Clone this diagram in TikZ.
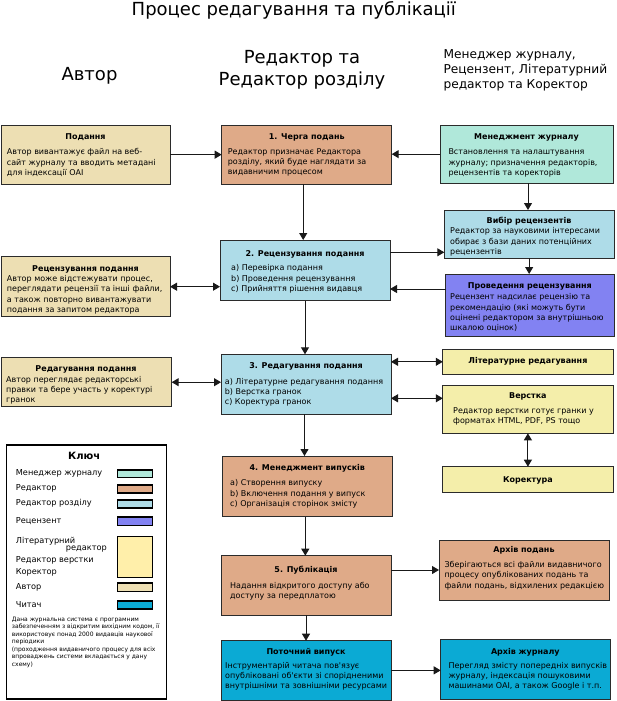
\documentclass[tikz,border=0pt]{standalone}
\usepackage{fontspec}
\setmainfont{DejaVu Sans}
\usetikzlibrary{arrows.meta,calc}
\definecolor{cauthor}{HTML}{EDDFB3}
\definecolor{ceditor}{HTML}{DFAA88}
\definecolor{csection}{HTML}{AEDCE8}
\definecolor{cmanager}{HTML}{B0E8DA}
\definecolor{creviewer}{HTML}{8282F2}
\definecolor{ccopy}{HTML}{F4EEAA}
\definecolor{ckeycopy}{HTML}{FFEFAA}
\definecolor{creader}{HTML}{0BAAD4}
\definecolor{cborder}{HTML}{2B2B2B}
\newcommand\fl{\rule{0pt}{7.6pt}}
\newcommand\fls{\rule{0pt}{5.7pt}}
\newcommand\mkbox[6]{\node[box, fill=#2, minimum width={#5-#3}, minimum height={#6-#4}] (#1) at (#3,#4) {};}
\newcommand\mksw[5]{\node[swatch, fill=#2, minimum height={#4-#3}] (#1) at (116.7,#3) {};}
\begin{document}
\begin{tikzpicture}[x=1pt,y=-1pt,
  box/.style={draw=cborder, line width=1pt, inner sep=0pt, outer sep=0pt, anchor=north west},
  swatch/.style={draw=black, line width=1.5pt, inner sep=0pt, anchor=north west, minimum width=35},
  ttl/.style={anchor=base, inner sep=0pt, font=\bfseries\fontsize{8}{10}\selectfont},
  bodyt/.style={anchor=north west, inner sep=0pt, align=left, font=\fontsize{8}{10.3}\selectfont},
  head/.style={inner sep=0pt, font=\fontsize{18}{22}\selectfont},
  keyl/.style={anchor=base west, inner sep=0pt, font=\fontsize{8.2}{10}\selectfont},
  arr/.style={-{Triangle[length=7pt,width=8pt]}, line width=1pt, draw=black!90},
  darr/.style={{Triangle[length=7pt,width=8pt]}-{Triangle[length=7pt,width=8pt]}, line width=1pt, draw=black!90}]
\useasboundingbox (0,0) rectangle (616,701);
% headings (base of a multi-line node = baseline of its last line)
\node[head, anchor=base] (title) at (293.8,15.5) {Процес редагування та публікації};
\node[head, anchor=base] (hauthor) at (89.5,81) {Автор};
\node[head, anchor=base, align=center] (hed) at (302,85.5) {Редактор та\\Редактор розділу};
\node[anchor=base west, inner sep=0pt, align=left, font=\fontsize{12.2}{15}\selectfont] (hright) at (443.3,88.5) {Менеджер журналу,\\Рецензент, Літературний\\редактор та Коректор};
% boxes
\mkbox{pod}{cauthor}{1}{125}{170}{184.3}
\mkbox{rec}{cauthor}{1}{256.7}{170}{316.7}
\mkbox{red}{cauthor}{1}{357.7}{171.7}{406.7}
\mkbox{b1}{ceditor}{221.7}{125}{391.7}{184.3}
\mkbox{b2}{csection}{220}{240}{390}{300.7}
\mkbox{b3}{csection}{221}{354.3}{391}{414.3}
\mkbox{b4}{ceditor}{222.3}{456}{392.3}{516.7}
\mkbox{b5}{ceditor}{221}{555.7}{391}{615}
\mkbox{pot}{creader}{221}{640.7}{391}{700}
\mkbox{mj}{cmanager}{440}{125}{613}{183.3}
\mkbox{vib}{csection}{444.3}{210}{614}{258.3}
\mkbox{prov}{creviewer}{445.7}{274}{614}{336}
\mkbox{lit}{ccopy}{442.8}{349.3}{613}{374.3}
\mkbox{ver}{ccopy}{442.8}{385.3}{613}{433.3}
\mkbox{kor}{ccopy}{442.8}{466.7}{613}{492.3}
\mkbox{arp}{ceditor}{439}{540}{609}{600}
\mkbox{arj}{creader}{440.7}{639.3}{610}{699.3}
% box texts
\node[ttl] (podt) at (85.5,139) {Подання};
\node[bodyt] (podb) at (6.7,147.1) {\fl Автор вивантажує файл на веб-\\сайт журналу та вводить метадані\\для індексації OAI};
\node[ttl] (rect) at (85.5,271.3) {Рецензування подання};
\node[bodyt] (recb) at (6.7,273.7) {\fl Автор може відстежувати процес,\\переглядати рецензії та інші файли,\\а також повторно вивантажувати\\подання за запитом редактора};
\node[ttl] (redt) at (86,371) {Редагування подання};
\node[bodyt] (redb) at (6,374.4) {\fl Автор переглядає редакторські\\правки та бере участь у коректурі\\гранок};
\node[ttl] (b1t) at (306.7,139) {1. Черга подань};
\node[bodyt] (b1b) at (227.7,146.4) {\fl Редактор призначає Редактора\\розділу, який буде наглядати за\\видавничим процесом};
\node[ttl] (b2t) at (305,256.3) {2. Рецензування подання};
\node[bodyt] (b2b) at (231,263.1) {\fl a) Перевірка подання\\b) Проведення рецензування\\c) Прийняття рішення видавця};
\node[ttl] (b3t) at (306,368) {3. Редагування подання};
\node[bodyt] (b3b) at (224.7,376.4) {\fl a) Літературне редагування подання\\b) Верстка гранок\\c) Коректура гранок};
\node[ttl] (b4t) at (307.3,470.3) {4. Менеджмент випусків};
\node[bodyt] (b4b) at (230,478.1) {\fl a) Створення випуску\\b) Включення подання у випуск\\c) Організація сторінок змісту};
\node[ttl] (b5t) at (306,572.3) {5. Публікація};
\node[bodyt] (b5b) at (230,580.4) {\fl Надання відкритого доступу або\\доступу за передплатою};
\node[ttl] (pott) at (306,654) {Поточний випуск};
\node[bodyt] (potb) at (225,660.4) {\fl Інструментарій читача пов\textquotesingle язує\\опубліковані об\textquotesingle єкти зі спорідненими\\внутрішніми та зовнішніми ресурсами};
\node[ttl] (mjt) at (526.5,139) {Менеджмент журналу};
\node[bodyt] (mjb) at (448.3,147.1) {\fl Встановлення та налаштування\\журналу; призначення редакторів,\\рецензентів та коректорів};
\node[ttl] (vibt) at (529,223.7) {Вибір рецензентів};
\node[bodyt] (vibb) at (450,226.1) {\fl Редактор за науковими інтересами\\обирає з бази даних потенційних\\рецензентів};
\node[ttl] (provt) at (529.8,288.3) {Проведення рецензування};
\node[bodyt] (provb) at (450,292.1) {\fl Рецензент надсилає рецензію та\\рекомендацію (які можуть бути\\оцінені редактором за внутрішньою\\шкалою оцінок)};
\node[ttl] (litt) at (527.9,363) {Літературне редагування};
\node[ttl] (vert) at (527.9,398.7) {Верстка};
\node[bodyt] (verb) at (453,405.4) {\fl Редактор верстки готує гранки у\\форматах HTML, PDF, PS тощо};
\node[ttl] (kort) at (527.9,482.5) {Коректура};
\node[ttl] (arpt) at (524,552) {Архів подань};
\node[bodyt] (arpb) at (444.3,559.7) {\fl Зберігаються всі файли видавничого\\процесу опублікованих подань та\\файли подань, відхилених редакцією};
\node[ttl] (arjt) at (525.3,654) {Архів журналу};
\node[bodyt] (arjb) at (448.3,660.4) {\fl Перегляд змісту попередніх випусків\\журналу, індексація пошуковими\\машинами OAI, а також Google і т.п.};
% connectors
\draw[arr] (pod.east) -- (pod.east -| b1.west);
\draw[arr] (mj.west) -- (mj.west -| b1.east);
\draw[arr] ($(b1.south)+(-3.5,0)$) -- ($(b1.south |- b2.north)+(-3.5,0)$);
\draw[arr] ($(mj.south)+(1.5,0)$) -- ($(mj.south |- vib.north)+(1.5,0)$);
\draw[arr] (b2.east |- 0,252.3) -- (vib.west |- 0,252.3);
\draw[arr] (vib.south) -- (vib.south |- prov.north);
\draw[arr] (prov.west |- 0,289) -- (b2.east |- 0,289);
\draw[darr] (rec.east) -- (rec.east -| b2.west);
\draw[arr] (b2.south) -- (b2.south |- b3.north);
\draw[darr] (red.east) -- (red.east -| b3.west);
\draw[darr] (lit.west -| b3.east) -- (lit.west);
\draw[darr] (b3.east |- 0,398.3) -- (ver.west |- 0,398.3);
\draw[darr] (ver.south) -- (ver.south |- kor.north);
\draw[arr] ($(b3.south)+(-1.5,0)$) -- ($(b3.south |- b4.north)+(-1.5,0)$);
\draw[arr] ($(b4.south)+(-2,0)$) -- ($(b4.south |- b5.north)+(-2,0)$);
\draw[arr] (arp.west -| b5.east) -- (arp.west);
\draw[arr] (b5.south) -- (b5.south |- pot.north);
\draw[arr] (pot.east) -- (pot.east -| arj.west);
% key
\node[box, draw=black, line width=1.5pt, fill=white, minimum width=160, minimum height=254] (key) at (6.7,445) {};
\node[anchor=base, inner sep=0pt, font=\bfseries\fontsize{10}{12}\selectfont] (keyt) at (84.2,459.5) {Ключ};
\node[keyl] (k1) at (15.7,475.8) {Менеджер журналу};
\node[keyl] (k2) at (15.7,490.8) {Редактор};
\node[keyl] (k3) at (15.7,505.8) {Редактор розділу};
\node[keyl] (k4) at (15.7,523.1) {Рецензент};
\node[keyl] (k5) at (15.7,543.8) {Літературний};
\node[keyl] (k5b) at (65.7,550.8) {редактор};
\node[keyl] (k6) at (15.7,562.1) {Редактор верстки};
\node[keyl] (k7) at (15.7,574.1) {Коректор};
\node[keyl] (k8) at (15.7,589.8) {Автор};
\node[keyl] (k9) at (15.7,607.4) {Читач};
\mksw{s1}{cmanager}{469}{476.7}{}
\mksw{s2}{ceditor}{484}{492.3}{}
\mksw{s3}{csection}{499}{507.3}{}
\mksw{s4}{creviewer}{516.3}{524.7}{}
\mksw{s5}{ckeycopy}{535.7}{576.7}{}
\mksw{s6}{cauthor}{582.3}{590.7}{}
\mksw{s7}{creader}{600}{608.3}{}
\node[anchor=north west, inner sep=0pt, align=left, font=\fontsize{6}{7.55}\selectfont] (keytext) at (11.7,615.3) {\fls Дана журнальна система є програмним\\забезпеченням з відкритим вихідним кодом, її\\використовує понад 2000 видавців наукової\\періодики\\(проходження видавничого процесу для всіх\\впроваджень системи вкладається у дану\\схему)};
\end{tikzpicture}
\end{document}
